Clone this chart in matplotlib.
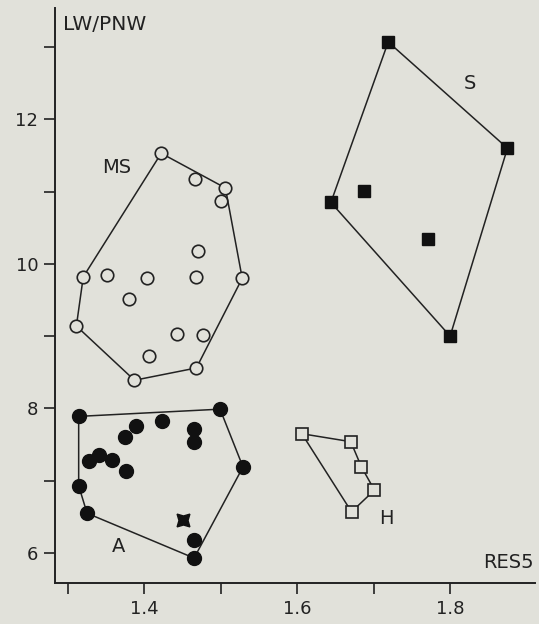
import numpy as np
import matplotlib.pyplot as plt

# --- data (x = RES5, y = LW/PNW) ---
ms_x = [1.422, 1.466, 1.506, 1.500, 1.470, 1.320, 1.351, 1.403, 1.467, 1.528,
        1.380, 1.311, 1.442, 1.477, 1.406, 1.468, 1.387]
ms_y = [11.53, 11.17, 11.05, 10.87, 10.18, 9.82, 9.85, 9.80, 9.82, 9.80,
        9.51, 9.14, 9.03, 9.01, 8.72, 8.56, 8.39]
ms_hull = [11, 5, 0, 2, 9, 15, 16]

a_x = [1.314, 1.499, 1.389, 1.423, 1.465, 1.465, 1.374, 1.328, 1.341, 1.358,
       1.376, 1.529, 1.314, 1.325, 1.465, 1.465]
a_y = [7.89, 7.99, 7.76, 7.82, 7.72, 7.53, 7.60, 7.27, 7.35, 7.29,
       7.14, 7.19, 6.93, 6.55, 6.18, 5.93]
a_hull = [0, 1, 11, 15, 13, 12]
star_x, star_y = [1.451], [6.45]

s_x = [1.644, 1.719, 1.875, 1.800, 1.687, 1.771]
s_y = [10.85, 13.07, 11.60, 9.00, 11.01, 10.35]
s_hull = [0, 1, 2, 3]

h_x = [1.606, 1.670, 1.684, 1.701, 1.671]
h_y = [7.65, 7.54, 7.19, 6.87, 6.57]
h_hull = [0, 1, 2, 3, 4]

group_labels = ["MS", "A", "S", "H"]
label_x = [1.364, 1.366, 1.826, 1.717]
label_y = [11.34, 6.09, 12.50, 6.48]

BG = "#e1e1da"
plt.rcParams["font.family"] = "DejaVu Sans"

fig = plt.figure(figsize=(5.39, 6.24), dpi=100, facecolor=BG)
ax = fig.add_axes([0.102, 0.0657, 0.8905, 0.9215], facecolor=BG)


def hull(xs, ys, idx):
    px = [xs[i] for i in idx] + [xs[idx[0]]]
    py = [ys[i] for i in idx] + [ys[idx[0]]]
    ax.plot(px, py, color="#222", lw=1.1, zorder=1)


hull(ms_x, ms_y, ms_hull)
hull(a_x, a_y, a_hull)
hull(s_x, s_y, s_hull)
hull(h_x, h_y, h_hull)

ax.plot(ms_x, ms_y, "o", ms=9, mfc=BG, mec="#222", mew=1.2, ls="none", zorder=3)
ax.plot(a_x, a_y, "o", ms=10, mfc="#111", mec="#111", ls="none", zorder=3)
ax.plot(star_x, star_y, marker=(4, 1, 45), ms=13, color="#111", ls="none", zorder=3)
ax.plot(s_x, s_y, "s", ms=8, mfc="#111", mec="#111", ls="none", zorder=3)
ax.plot(h_x, h_y, "s", ms=8.5, mfc=BG, mec="#222", mew=1.2, ls="none", zorder=3)

for t, lx, ly in zip(group_labels, label_x, label_y):
    ax.text(lx, ly, t, fontsize=14, ha="center", va="center", color="#222")

ax.set_xlim(1.283, 1.911)
ax.set_ylim(5.585, 13.54)
ax.set_xticks(np.arange(1.3, 1.81, 0.1))
ax.set_xticklabels(["", "1.4", "", "1.6", "", "1.8"])
ax.set_yticks(np.arange(6, 14, 1))
ax.set_yticklabels(["6", "", "8", "", "10", "", "12", ""])
ax.tick_params(direction="out", length=8, width=1.2, labelsize=13, colors="#222", pad=4)

for side in ("top", "right"):
    ax.spines[side].set_visible(False)
for side in ("left", "bottom"):
    ax.spines[side].set_linewidth(1.4)
    ax.spines[side].set_color("#222")

ax.text(0.016, 0.987, "LW/PNW", transform=ax.transAxes, fontsize=14.5,
        ha="left", va="top", color="#222")
ax.text(0.998, 0.02, "RES5", transform=ax.transAxes, fontsize=14,
        ha="right", va="bottom", color="#222")

fig.savefig("out.png", dpi=100, facecolor=BG)
